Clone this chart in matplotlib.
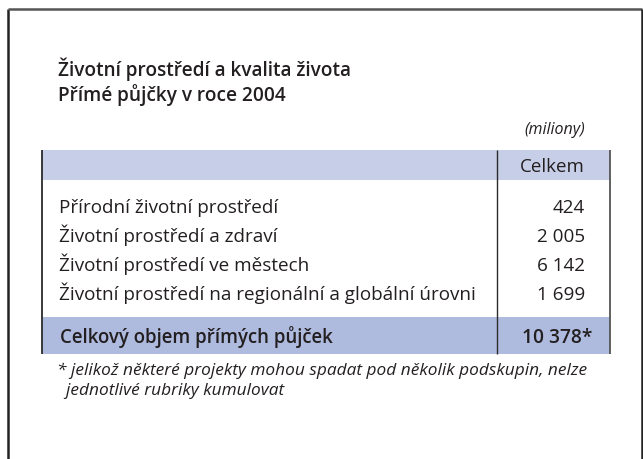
import matplotlib
matplotlib.use("Agg")
import matplotlib.pyplot as plt
from matplotlib.patches import Rectangle

# ---- data ----
title_lines = ["Životní prostředí a kvalita života", "Přímé půjčky v roce 2004"]
unit_label = "(miliony)"
column_header = "Celkem"
categories = [
    "Přírodní životní prostředí",
    "Životní prostředí a zdraví",
    "Životní prostředí ve městech",
    "Životní prostředí na regionální a globální úrovni",
]
values = [424, 2005, 6142, 1699]
total_label = "Celkový objem přímých půjček"
total_value = 10378
total_suffix = "*"
footnote_lines = [
    "* jelikož některé projekty mohou spadat pod několik podskupin, nelze",
    "  jednotlivé rubriky kumulovat",
]

def fmt(v):
    return f"{v:,}".replace(",", " ")

FONT = "Open Sans"
TXT = "#231f20"
HEAD_BG = "#c7cee7"
TOT_BG = "#aebbdf"
LINE = "#2b2b2b"

fig = plt.figure(figsize=(6.43, 4.60), dpi=100)
ax = fig.add_axes([0, 0, 1, 1])
ax.set_xlim(0, 643)
ax.set_ylim(460, 0)
ax.axis("off")

# outer frame (open at bottom)
ax.plot([8, 8], [470, 10], color="#222222", lw=1.8, solid_capstyle="butt")
ax.plot([8, 642], [10, 10], color="#555555", lw=1.8, solid_capstyle="butt")
ax.plot([641.5, 641.5], [10, 470], color="#222222", lw=1.8, solid_capstyle="butt")

# titles
for i, t in enumerate(title_lines):
    ax.text(58, 76 + i * 25, t, fontsize=13.7, fontweight="semibold", family=FONT,
            color=TXT, va="baseline", ha="left")

ax.text(585, 134, unit_label, fontsize=11.5, style="italic", family=FONT,
        color=TXT, va="baseline", ha="right")

# table geometry
tl, tr, tdiv = 42, 610, 497
h_top, h_bot = 151, 181
t_top, t_bot = 318, 355

ax.add_patch(Rectangle((tl, h_top), tr - tl, h_bot - h_top, facecolor=HEAD_BG, edgecolor="none"))
ax.add_patch(Rectangle((tl, t_top), tr - tl, t_bot - t_top, facecolor=TOT_BG, edgecolor="none"))
ax.plot([tl, tl], [h_top, t_bot], color=LINE, lw=1.3, solid_capstyle="butt")
ax.plot([tr, tr], [h_top, t_bot], color="#555555", lw=1.3, solid_capstyle="butt")
ax.plot([tdiv, tdiv], [h_top, t_bot], color=LINE, lw=1.0, solid_capstyle="butt")

ax.text(585, 172, column_header, fontsize=13.5, family=FONT, color=TXT,
        va="baseline", ha="right")

row_y0, row_dy = 213, 29
for i, (c, v) in enumerate(zip(categories, values)):
    y = row_y0 + i * row_dy
    ax.text(59, y, c, fontsize=13.6, family=FONT, color=TXT, va="baseline", ha="left")
    ax.text(585, y, fmt(v), fontsize=13.6, family=FONT, color=TXT, va="baseline", ha="right")

ax.text(60, 343, total_label, fontsize=13.4, fontweight="semibold", family=FONT,
        color=TXT, va="baseline", ha="left")
ax.text(592, 343, fmt(total_value) + total_suffix, fontsize=13.8, fontweight="semibold",
        family=FONT, color=TXT, va="baseline", ha="right")

for i, t in enumerate(footnote_lines):
    ax.text(57, 375 + i * 20, t, fontsize=12.4, style="italic", family=FONT,
            color=TXT, va="baseline", ha="left")

fig.savefig("out.png", dpi=100)
